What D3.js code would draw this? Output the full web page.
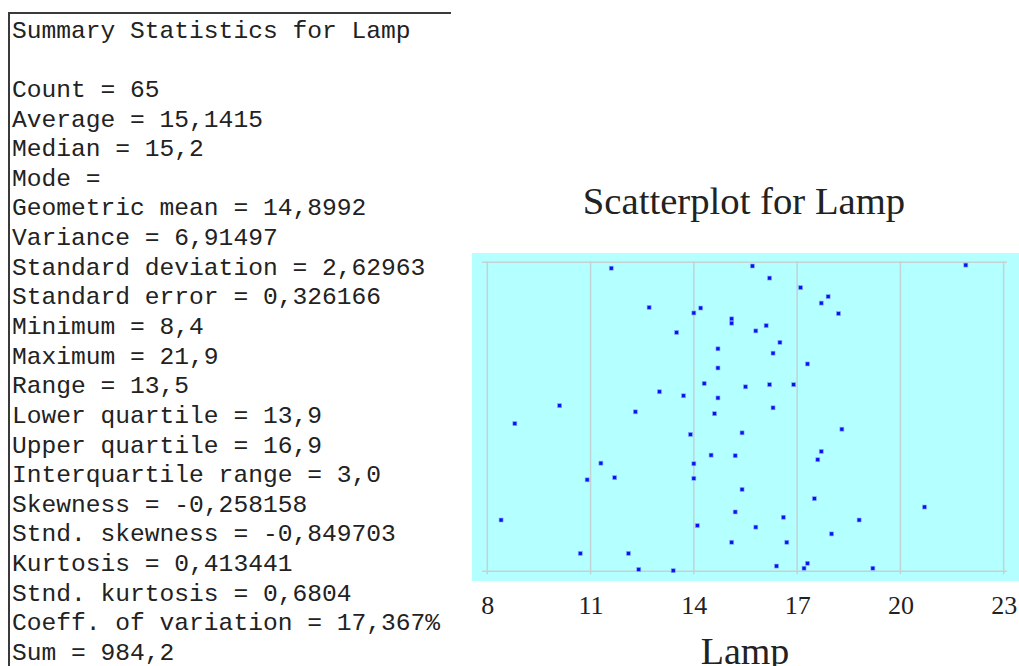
<!DOCTYPE html>
<html>
<head>
<meta charset="utf-8">
<script src="https://cdn.jsdelivr.net/npm/d3@7"></script>
<style>
  html, body { margin: 0; padding: 0; background: #ffffff; }
  svg { display: block; }
</style>
</head>
<body>
<svg id="chart" width="1019" height="666"></svg>
<script>
// Lamp observations (one value per lamp) and their vertical row placement (0–100)
const lampValues = [
  11.6, 12.7, 14.0, 14.2, 15.1, 15.1, 13.5, 14.7, 14.7, 14.3,
  15.5, 13.0, 13.7, 14.7, 10.1, 12.3, 14.6, 15.7, 16.2, 17.1,
  17.9, 17.7, 18.2, 16.1, 15.8, 16.5, 16.3, 17.3, 16.2, 16.9,
  16.3, 21.9, 8.8, 13.9, 15.4, 14.5, 15.2, 11.3, 14.0, 10.9,
  11.7, 14.0, 15.4, 8.4, 15.2, 14.1, 15.1, 10.7, 12.1, 12.4,
  13.4, 18.3, 17.7, 17.6, 17.5, 20.7, 16.6, 18.8, 15.8, 18.0,
  16.7, 16.4, 17.3, 17.2, 19.2
];
const rowJitter = [
  98.1, 85.4, 83.6, 85.2, 81.7, 80.3, 77.3, 72.0, 65.8, 60.8,
  59.7, 58.1, 56.8, 56.1, 53.6, 51.6, 51.0, 98.8, 94.9, 91.8,
  88.9, 86.8, 83.4, 79.5, 77.8, 74.1, 70.6, 67.1, 60.4, 60.4,
  52.9, 99.1, 47.8, 44.3, 44.8, 37.6, 37.4, 35.0, 34.8, 29.6,
  30.3, 30.1, 26.5, 16.6, 19.2, 14.8, 9.4, 5.8, 5.8, 0.6,
  0.2, 46.0, 38.8, 36.1, 23.5, 20.8, 17.5, 16.6, 14.3, 12.1,
  9.4, 1.7, 2.6, 1.0, 1.0
];
const tickValues = [8, 11, 14, 17, 20, 23];

// Summary statistics panel
const statsTitle = "Summary Statistics for Lamp";
const statLabels = [
  "Count", "Average", "Median", "Mode", "Geometric mean", "Variance",
  "Standard deviation", "Standard error", "Minimum", "Maximum", "Range",
  "Lower quartile", "Upper quartile", "Interquartile range", "Skewness",
  "Stnd. skewness", "Kurtosis", "Stnd. kurtosis", "Coeff. of variation", "Sum"
];
const statValues = [
  "65", "15,1415", "15,2", "", "14,8992", "6,91497",
  "2,62963", "0,326166", "8,4", "21,9", "13,5",
  "13,9", "16,9", "3,0", "-0,258158",
  "-0,849703", "0,413441", "0,6804", "17,367%", "984,2"
];

const svg = d3.select("#chart");
const serif = "'Times New Roman', 'Liberation Serif', serif";

// ---- statistics text panel ----
const panel = svg.append("g");
panel.append("line")
  .attr("x1", 8).attr("x2", 451).attr("y1", 13).attr("y2", 13)
  .attr("stroke", "#3a3a3a").attr("stroke-width", 2);
panel.append("line")
  .attr("x1", 9).attr("x2", 9).attr("y1", 12).attr("y2", 666)
  .attr("stroke", "#3a3a3a").attr("stroke-width", 2);

const lines = [statsTitle, ""].concat(statLabels.map((l, i) => l + " = " + statValues[i]));
const lineY = d3.scaleLinear().domain([0, lines.length - 1]).range([37.7, 37.7 + 29.63 * (lines.length - 1)]);
panel.selectAll("text.stat")
  .data(lines)
  .join("text")
  .attr("class", "stat")
  .attr("x", 12)
  .attr("y", (d, i) => lineY(i))
  .attr("font-family", "'Courier New', 'Liberation Mono', monospace")
  .attr("font-size", 24.6)
  .attr("fill", "#222")
  .attr("xml:space", "preserve")
  .style("white-space", "pre")
  .text(d => d);

// ---- scatterplot ----
const x = d3.scaleLinear().domain([8, 23]).range([487.3, 1003.7]);
const y = d3.scaleLinear().domain([0, 100]).range([571.3, 262.3]);

svg.append("rect")
  .attr("x", 472).attr("y", 253).attr("width", 547).attr("height", 328)
  .attr("fill", "#b4ffff");

const grid = svg.append("g").attr("stroke", "#c3d3d3").attr("stroke-width", 1.5);
grid.selectAll("line.v")
  .data(tickValues)
  .join("line")
  .attr("class", "v")
  .attr("x1", d => x(d)).attr("x2", d => x(d))
  .attr("y1", y(100) - 1).attr("y2", y(0) + 3);
grid.selectAll("line.h")
  .data([0, 100])
  .join("line")
  .attr("class", "h")
  .attr("x1", 482).attr("x2", 1007)
  .attr("y1", d => y(d)).attr("y2", d => y(d));

svg.append("g")
  .selectAll("rect")
  .data(lampValues.map((v, i) => ({ v, r: rowJitter[i] })))
  .join("rect")
  .attr("x", d => x(d.v) - 2)
  .attr("y", d => y(d.r) - 2)
  .attr("width", 4).attr("height", 4)
  .attr("fill", "#1010ee")
  .attr("stroke", "#7fb0ff").attr("stroke-width", 0.6);

// Axis tick labels
const axis = svg.append("g")
  .attr("transform", "translate(0,614)")
  .call(d3.axisBottom(x).tickValues(tickValues).tickSize(0).tickPadding(0));
axis.select(".domain").remove();
axis.selectAll("text")
  .attr("dy", 0)
  .attr("font-family", serif)
  .attr("font-size", 26)
  .attr("fill", "#222");

// Title and axis label
svg.append("text")
  .attr("x", 744).attr("y", 214)
  .attr("text-anchor", "middle")
  .attr("font-family", serif)
  .attr("font-size", 38.7)
  .attr("fill", "#222")
  .text("Scatterplot for Lamp");

svg.append("text")
  .attr("x", 745).attr("y", 664)
  .attr("text-anchor", "middle")
  .attr("font-family", serif)
  .attr("font-size", 38)
  .attr("fill", "#222")
  .text("Lamp");
</script>
</body>
</html>
